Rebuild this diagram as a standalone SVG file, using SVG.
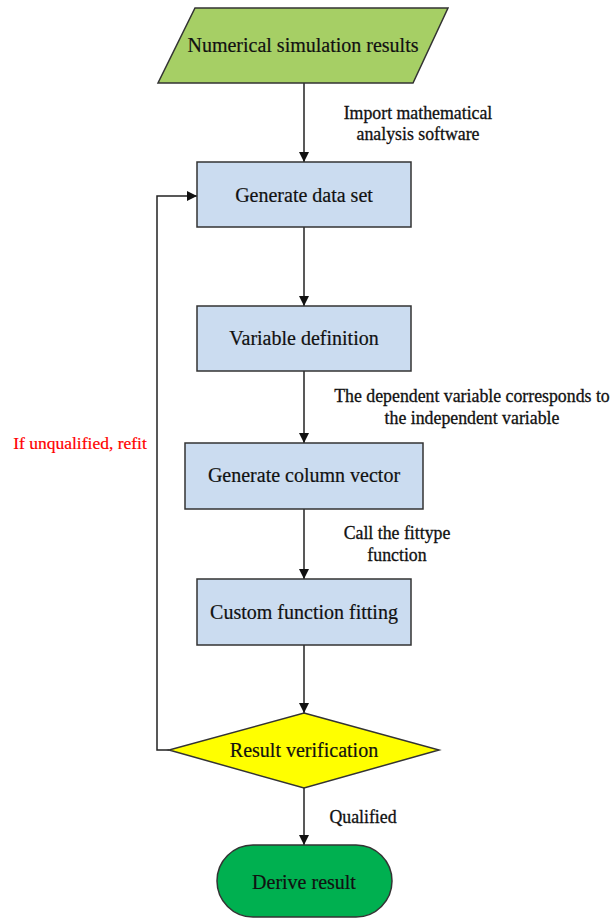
<svg xmlns="http://www.w3.org/2000/svg" width="616" height="919" viewBox="0 0 616 919">
  <defs>
    <marker id="arrow" viewBox="0 0 10 10" refX="10" refY="5" markerWidth="10" markerHeight="10" markerUnits="userSpaceOnUse" orient="auto">
      <path d="M0,0 L10,5 L0,10 Z" fill="#111"/>
    </marker>
  </defs>
  <style>
    .shape { stroke: #333; stroke-width: 1.5; }
    .proc { fill: #CBDCF0; }
    .node-text { font-family: "Liberation Serif", "Times New Roman", serif; font-size: 20px; fill: #111; stroke: #111; stroke-width: 0.2; text-anchor: middle; dominant-baseline: central; }
    .label { font-family: "Liberation Serif", "Times New Roman", serif; font-size: 17.8px; fill: #111; stroke: #111; stroke-width: 0.3; text-anchor: middle; dominant-baseline: central; }
    .note { fill: #FF0000; stroke: #FF0000; stroke-width: 0.2; font-size: 17.5px; }
    .conn { fill: none; stroke: #222; stroke-width: 1.5; marker-end: url(#arrow); }
  </style>
  <rect width="616" height="919" fill="#fff"/>

  <g id="connectors">
    <line class="conn" x1="304" y1="83" x2="304" y2="162"/>
    <line class="conn" x1="304" y1="227" x2="304" y2="306"/>
    <line class="conn" x1="304" y1="371" x2="304" y2="443"/>
    <line class="conn" x1="304" y1="509" x2="304" y2="579"/>
    <line class="conn" x1="304" y1="645" x2="304" y2="713"/>
    <line class="conn" x1="304" y1="788" x2="304" y2="845"/>
    <polyline class="conn" points="169,750 157,750 157,196 197,196"/>
    <text class="label" x="418" y="113">Import mathematical</text>
    <text class="label" x="418" y="134">analysis software</text>
    <text class="label" x="472" y="396">The dependent variable corresponds to</text>
    <text class="label" x="472" y="418">the independent variable</text>
    <text class="label" x="397" y="533">Call the fittype</text>
    <text class="label" x="397" y="555">function</text>
    <text class="label" x="363" y="817">Qualified</text>
    <text class="label note" x="80" y="443">If unqualified, refit</text>
  </g>

  <g id="node-input">
    <polygon class="shape" points="195,8 448,8 413,83 158,83" fill="#A6CF65"/>
    <text class="node-text" x="303" y="45">Numerical simulation results</text>
  </g>

  <g id="node-dataset">
    <rect class="shape proc" x="197" y="162" width="214" height="65"/>
    <text class="node-text" x="304" y="195">Generate data set</text>
  </g>

  <g id="node-variables">
    <rect class="shape proc" x="197" y="306" width="214" height="65"/>
    <text class="node-text" x="304" y="338">Variable definition</text>
  </g>

  <g id="node-vector">
    <rect class="shape proc" x="185" y="443" width="238" height="66"/>
    <text class="node-text" x="304" y="475">Generate column vector</text>
  </g>

  <g id="node-fitting">
    <rect class="shape proc" x="197" y="579" width="214" height="66"/>
    <text class="node-text" x="304" y="612">Custom function fitting</text>
  </g>

  <g id="node-verify">
    <polygon class="shape" points="304,713 439,750 304,788 169,750" fill="#FFFF00"/>
    <text class="node-text" x="304" y="750">Result verification</text>
  </g>

  <g id="node-result">
    <rect class="shape" x="217" y="845" width="175" height="72" rx="36" fill="#00B050"/>
    <text class="node-text" x="304" y="882">Derive result</text>
  </g>
</svg>
